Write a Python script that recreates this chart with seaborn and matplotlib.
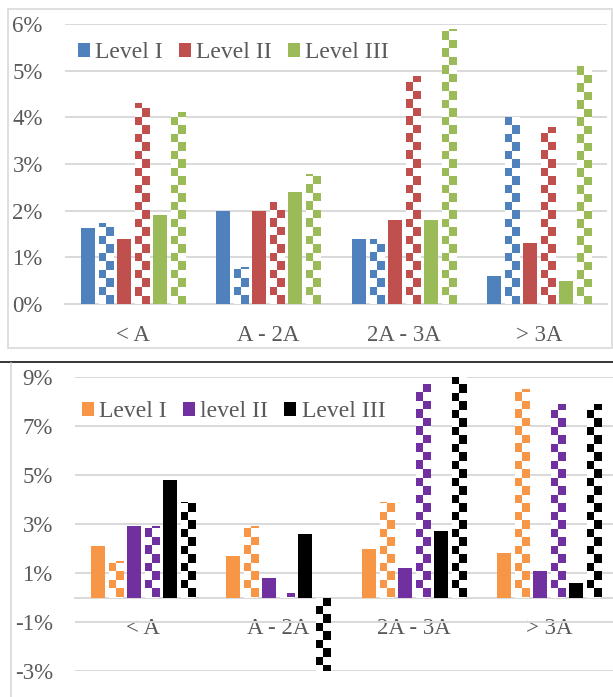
import numpy as np
import pandas as pd
import matplotlib
matplotlib.use("Agg")
import matplotlib.pyplot as plt
from matplotlib.colors import to_rgba
from matplotlib.patches import Patch, Rectangle
from matplotlib.lines import Line2D
import seaborn as sns

# ---------------- data ----------------
categories = ["< A", "A - 2A", "2A - 3A", "> 3A"]

# top panel (percent)
top_solid_I = [1.63, 2.0, 1.4, 0.6]
top_check_I = [1.73, 0.8, 1.4, 4.0]
top_solid_II = [1.4, 2.0, 1.8, 1.3]
top_check_II = [4.3, 2.19, 4.89, 3.8]
top_solid_III = [1.91, 2.39, 1.8, 0.5]
top_check_III = [4.11, 2.79, 5.9, 5.1]
top_legend = ["Level I", "Level II", "Level III"]
top_yticks = [0, 1, 2, 3, 4, 5, 6]
top_yticklabels = ["0%", "1%", "2%", "3%", "4%", "5%", "6%"]

# bottom panel (percent)
bot_solid_I = [2.1, 1.7, 2.0, 1.8]
bot_check_I = [1.5, 2.9, 3.9, 8.5]
bot_solid_II = [2.9, 0.8, 1.2, 1.1]
bot_check_II = [2.9, 0.2, 8.7, 7.9]
bot_solid_III = [4.8, 2.6, 2.7, 0.6]
bot_check_III = [3.9, -3.0, 9.0, 7.9]
bot_legend = ["Level I", "level II", "Level III"]
bot_yticks = [-3, -1, 1, 3, 5, 7, 9]
bot_yticklabels = ["-3%", "-1%", "1%", "3%", "5%", "7%", "9%"]

top_colors = ["#4F81BD", "#C0504D", "#9BBB59"]
bot_colors = ["#F79646", "#7030A0", "#000000"]

TEXT = "#595959"
GRID = "#D9D9D9"
FS = 16.5

sns.set_style("white")
plt.rcParams["font.family"] = ["Liberation Serif", "DejaVu Serif"]

fig = plt.figure(figsize=(6.13, 6.97), dpi=100)
W, H = 613.0, 697.0


def make_df(series):
    rows = []
    for name, vals in series:
        for c, v in zip(categories, vals):
            rows.append({"category": c, "series": name, "value": v})
    return pd.DataFrame(rows)


def checker(ax, bar, color, sq_px=8.5):
    x0 = bar.get_x()
    w = bar.get_width()
    h = bar.get_height()
    p0 = ax.transData.transform((0, 0))
    p1 = ax.transData.transform((0, 1))
    ppu = p1[1] - p0[1]
    sq = sq_px / ppu
    n = max(1, int(np.ceil(abs(h) / sq)))
    rgba = np.array(to_rgba(color))
    white = np.array([1, 1, 1, 1.0])
    arr = np.zeros((n, 2, 4))
    for r in range(n):
        for c in range(2):
            arr[r, c] = rgba if (r + c) % 2 == 1 else white
    top = np.sign(h) * n * sq
    im = ax.imshow(arr, extent=(x0, x0 + w, 0, top), origin="lower",
                   aspect="auto", interpolation="nearest",
                   zorder=bar.get_zorder() + 0.1)
    im.set_clip_path(bar)
    bar.set_facecolor("white")


def panel(ax, series, colors, ylim, yticks, yticklabels, legend_labels, anchor):
    df = make_df(series)
    names = [s[0] for s in series]
    palette = {}
    for i, nm in enumerate(names):
        palette[nm] = colors[i // 2]
    sns.barplot(data=df, x="category", y="value", hue="series",
                hue_order=names, order=categories, palette=palette,
                width=0.797, gap=0.222, saturation=1, errorbar=None,
                legend=False, linewidth=0, ax=ax)
    ax.set_xlim(-0.5, 3.5)
    ax.set_ylim(*ylim)
    ax.set_yticks(yticks)
    ax.set_yticklabels(yticklabels)
    ax.set_xlabel("")
    ax.set_ylabel("")
    ax.set_axisbelow(True)
    ax.yaxis.grid(True, color=GRID, lw=1.4)
    ax.xaxis.grid(False)
    for s in ["top", "right", "left"]:
        ax.spines[s].set_visible(False)
    ax.spines["bottom"].set_position(("data", 0))
    ax.spines["bottom"].set_color(GRID)
    ax.spines["bottom"].set_linewidth(1.4)
    ax.spines["bottom"].set_zorder(0.6)
    ax.tick_params(axis="y", length=0, labelsize=FS, labelcolor=TEXT, pad=16)
    ax.tick_params(axis="x", length=0, labelsize=FS, labelcolor=TEXT, pad=15)
    ax.patch.set_alpha(0)

    for i, cont in enumerate(ax.containers):
        if i % 2 == 1:
            for bar in cont.patches:
                checker(ax, bar, colors[i // 2])
    ax.set_xlim(-0.5, 3.5)
    ax.set_ylim(*ylim)

    handles = [Patch(facecolor=c, edgecolor="none") for c in colors]
    ax.legend(handles, legend_labels, ncol=3, loc="center left",
              bbox_to_anchor=anchor, frameon=False, fontsize=17,
              labelcolor=TEXT, handlelength=0.51, handleheight=0.51,
              handletextpad=0.22, columnspacing=0.68, borderpad=0,
              borderaxespad=0)


ax1 = fig.add_axes([65 / W, 393 / H, 542 / W, 280 / H])
ax2 = fig.add_axes([75 / W, 26 / H, 542 / W, 294 / H])

top_series = [("I", top_solid_I), ("I*", top_check_I),
              ("II", top_solid_II), ("II*", top_check_II),
              ("III", top_solid_III), ("III*", top_check_III)]
bot_series = [("I", bot_solid_I), ("I*", bot_check_I),
              ("II", bot_solid_II), ("II*", bot_check_II),
              ("III", bot_solid_III), ("III*", bot_check_III)]

panel(ax1, top_series, top_colors, (0, 6), top_yticks, top_yticklabels,
      top_legend, ((78 - 65) / 542, (304 - 53) / 280))
panel(ax2, bot_series, bot_colors, (-3, 9), bot_yticks, bot_yticklabels,
      bot_legend, ((82 - 75) / 542, (671 - 411.7) / 294))

# panel frames
fig.add_artist(Rectangle((8 / W, 1 - 348 / H), (612 - 8) / W, (348 - 9) / H,
                         transform=fig.transFigure, fill=False,
                         edgecolor=GRID, lw=1.2, zorder=0))
fig.add_artist(Line2D([0, 1], [1 - 361.5 / H, 1 - 361.5 / H],
                      transform=fig.transFigure, color="black", lw=1.1))
fig.add_artist(Line2D([11 / W, 11 / W], [0, 1 - 362.5 / H],
                      transform=fig.transFigure, color=GRID, lw=1.2))

fig.savefig("out.png", dpi=100)
